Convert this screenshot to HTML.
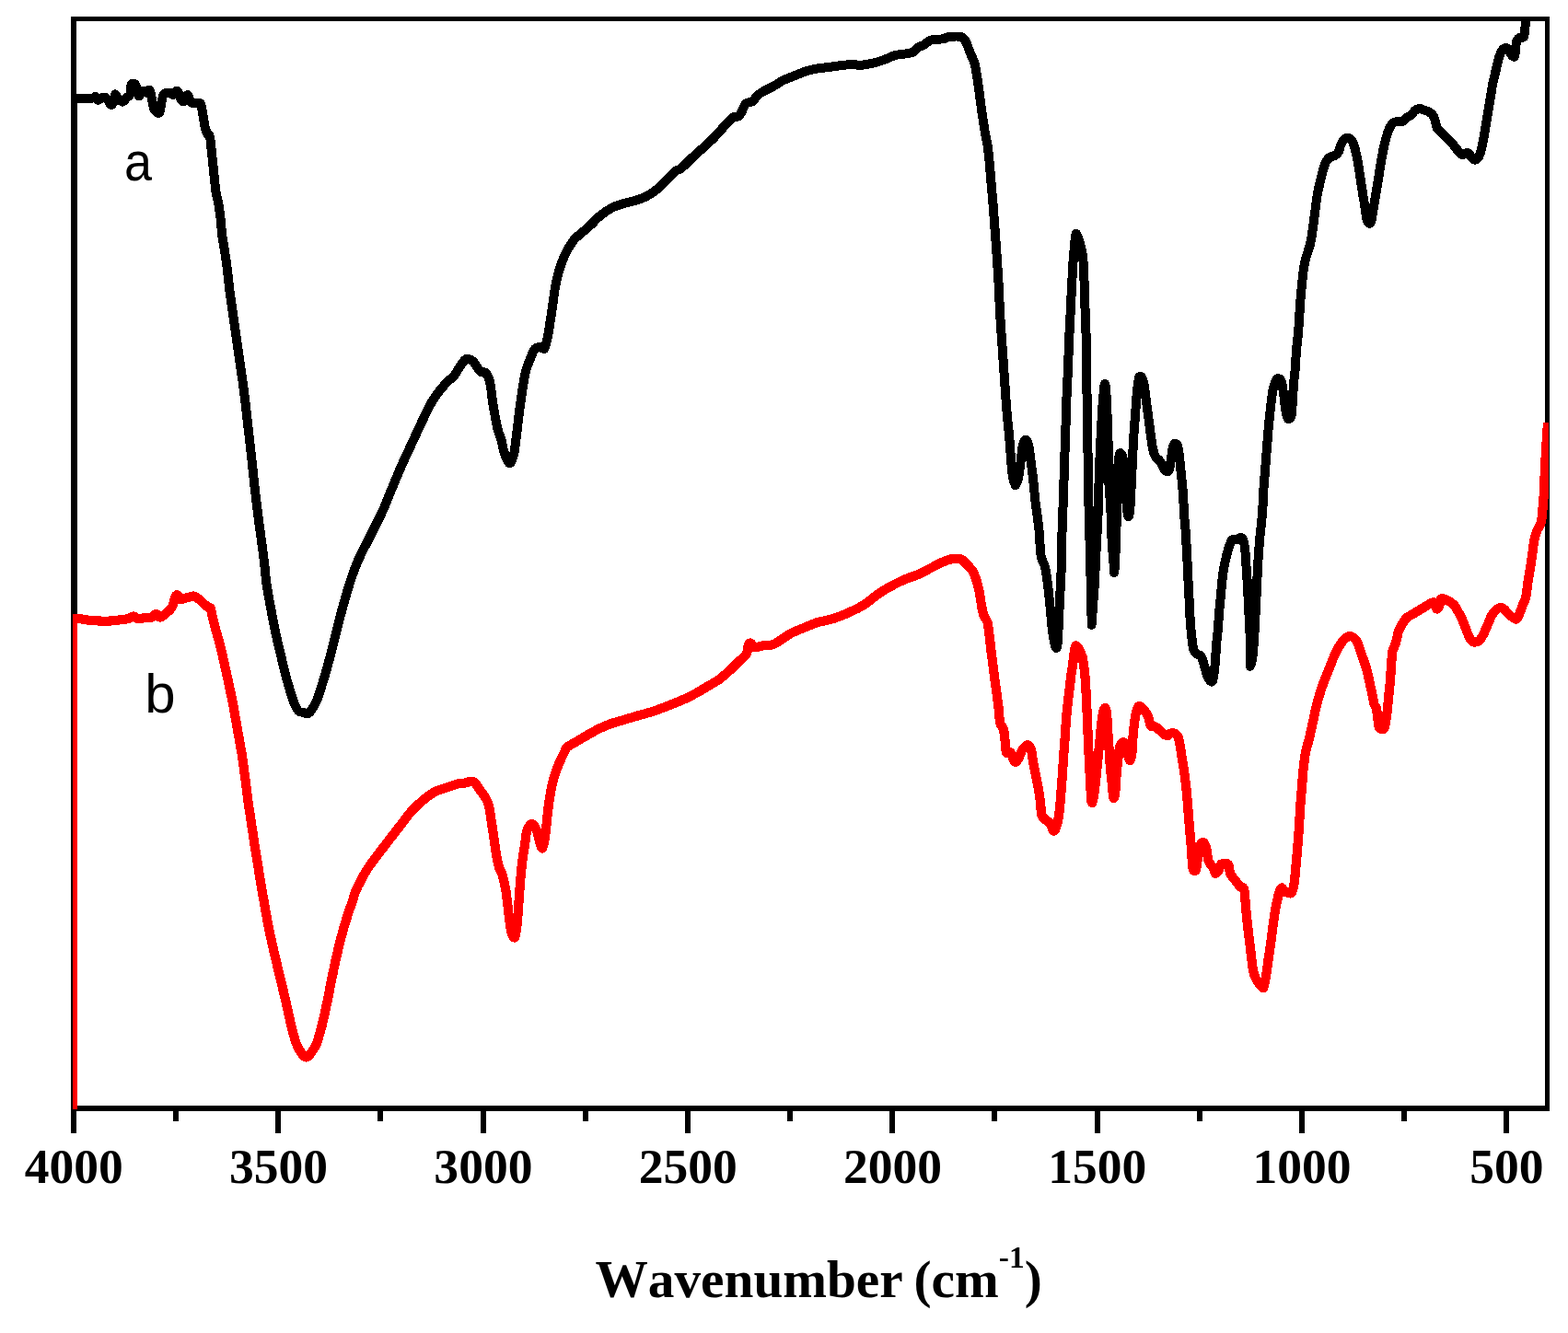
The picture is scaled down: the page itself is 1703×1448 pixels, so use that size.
<!DOCTYPE html>
<html lang="en">
<head>
<meta charset="utf-8">
<title>FTIR spectra</title>
<style>
html,body{margin:0;padding:0;background:#fff;}
body{width:1703px;height:1448px;overflow:hidden;}
svg{display:block;}
.tl text{font-family:"Liberation Serif",serif;font-weight:bold;font-size:52px;fill:#000;font-kerning:none;}
.ttl{font-family:"Liberation Serif",serif;font-weight:bold;font-size:57.3px;fill:#000;font-kerning:none;word-spacing:-2.5px;}
.lbl{font-family:"Liberation Sans",sans-serif;font-size:60px;fill:#000;}
</style>
</head>
<body>
<svg width="1703" height="1448" viewBox="0 0 1703 1448">
<rect width="1703" height="1448" fill="#fff"/>
<defs><clipPath id="plot"><rect x="79" y="18" width="1603" height="1187"/></clipPath></defs>
<g shape-rendering="crispEdges" fill="#000">
<rect x="77" y="18" width="6" height="1189"/>
<rect x="77" y="1201" width="1606" height="6"/>
<rect x="77" y="18" width="1606" height="5"/>
<rect x="1678" y="18" width="5" height="1189"/>
</g>
<g fill="#000" shape-rendering="crispEdges">
<rect x="77" y="1204" width="6" height="26.5"/><rect x="78" y="1230" width="4" height="1"/>
<rect x="299" y="1204" width="6" height="26.5"/><rect x="300" y="1230" width="4" height="1"/>
<rect x="522" y="1204" width="6" height="26.5"/><rect x="523" y="1230" width="4" height="1"/>
<rect x="744" y="1204" width="6" height="26.5"/><rect x="745" y="1230" width="4" height="1"/>
<rect x="966" y="1204" width="6" height="26.5"/><rect x="967" y="1230" width="4" height="1"/>
<rect x="1189" y="1204" width="6" height="26.5"/><rect x="1190" y="1230" width="4" height="1"/>
<rect x="1411" y="1204" width="6" height="26.5"/><rect x="1412" y="1230" width="4" height="1"/>
<rect x="1633" y="1204" width="6" height="26.5"/><rect x="1634" y="1230" width="4" height="1"/>
<rect x="188" y="1204" width="6" height="13.5"/><rect x="189" y="1217" width="4" height="1"/>
<rect x="410" y="1204" width="6" height="13.5"/><rect x="411" y="1217" width="4" height="1"/>
<rect x="633" y="1204" width="6" height="13.5"/><rect x="634" y="1217" width="4" height="1"/>
<rect x="855" y="1204" width="6" height="13.5"/><rect x="856" y="1217" width="4" height="1"/>
<rect x="1077" y="1204" width="6" height="13.5"/><rect x="1078" y="1217" width="4" height="1"/>
<rect x="1300" y="1204" width="6" height="13.5"/><rect x="1301" y="1217" width="4" height="1"/>
<rect x="1522" y="1204" width="6" height="13.5"/><rect x="1523" y="1217" width="4" height="1"/>
</g>
<g clip-path="url(#plot)" fill="none" stroke-linejoin="round" stroke-linecap="butt" shape-rendering="crispEdges">
<path stroke="#000" stroke-width="10" d="M79.0,1206.0L79.0,106.7C79.7,106.7 79.4,106.6 82.9,106.6C86.4,106.6 96.5,106.9 100.0,106.6C103.5,106.3 102.7,104.6 103.8,105.0C104.8,105.4 105.0,108.7 106.5,108.8C108.0,108.8 110.9,105.8 112.5,105.6C114.1,105.4 114.9,106.1 116.2,107.5C117.6,108.9 119.3,113.3 120.6,113.8C121.8,114.2 123.0,111.9 123.8,110.0C124.5,108.1 124.3,103.1 125.0,102.5C125.7,101.9 126.7,104.9 128.0,106.2C129.3,107.6 131.4,110.6 133.0,110.6C134.6,110.6 136.1,107.6 137.5,106.2C138.9,104.9 140.4,104.8 141.2,102.5C142.1,100.2 141.8,94.4 142.5,92.5C143.2,90.6 144.7,90.8 145.6,91.0C146.5,91.2 147.2,91.6 148.0,93.8C148.8,95.9 149.8,102.8 150.6,104.0C151.4,105.2 152.3,101.9 153.0,101.0C153.7,100.1 154.0,98.8 155.0,98.8C156.0,98.7 157.5,100.7 158.8,100.6C160.0,100.5 161.5,96.8 162.5,98.0C163.5,99.2 164.2,104.0 165.0,107.5C165.8,111.0 166.2,116.2 167.5,118.8C168.8,121.2 171.7,124.0 173.0,122.5C174.3,121.0 174.8,113.3 175.6,110.0C176.4,106.7 176.6,104.1 178.0,102.5C179.4,100.9 182.1,100.5 183.8,100.6C185.4,100.7 186.5,103.3 188.0,103.0C189.5,102.7 191.1,98.0 192.5,98.8C193.9,99.5 195.0,105.6 196.2,107.5C197.5,109.4 198.8,110.8 200.0,110.0C201.2,109.2 202.6,103.0 203.8,103.0C204.9,103.0 205.9,108.5 206.9,110.0C207.9,111.5 208.2,111.9 210.0,112.2C211.8,112.6 215.8,110.5 217.5,112.2C219.2,114.0 219.2,118.3 220.0,122.5C220.8,126.7 221.7,133.8 222.5,137.5C223.3,141.2 224.1,143.1 225.0,145.0C225.9,146.9 227.2,145.2 228.0,148.8C228.8,152.3 229.3,160.2 230.0,166.2C230.7,172.3 231.3,178.1 232.0,185.0C232.7,191.9 233.5,201.2 234.4,207.5C235.3,213.8 236.6,216.9 237.5,222.5C238.4,228.1 239.4,235.6 240.0,241.0C240.6,246.4 240.2,247.2 241.2,255.0C242.3,262.8 244.8,276.7 246.2,287.5C247.7,298.3 248.5,308.8 250.0,320.0C251.5,331.2 253.3,343.3 255.0,355.0C256.7,366.7 258.3,378.3 260.0,390.0C261.7,401.7 263.5,413.3 265.0,425.0C266.5,436.7 267.7,448.3 269.0,460.0C270.3,471.7 271.7,483.0 273.0,495.0C274.3,507.0 275.6,520.7 276.9,532.0C278.2,543.3 279.7,554.8 280.7,563.0C281.7,571.2 282.1,573.2 283.1,581.0C284.1,588.8 285.8,601.0 286.9,610.0C288.0,619.0 288.4,626.7 289.6,635.0C290.8,643.3 292.5,651.7 294.0,660.0C295.5,668.3 297.0,676.7 298.8,685.0C300.5,693.3 302.6,701.7 304.6,710.0C306.6,718.3 308.4,726.7 310.6,735.0C312.9,743.3 316.2,754.3 318.1,760.0C320.0,765.7 320.9,766.8 322.0,769.0C323.1,771.2 323.7,772.2 325.0,773.0C326.3,773.8 328.4,773.6 330.0,774.0C331.6,774.4 333.0,775.8 334.4,775.2C335.8,774.8 336.8,773.5 338.5,771.0C340.2,768.5 342.1,766.0 344.4,760.0C346.7,754.0 350.0,743.3 352.5,735.0C355.0,726.7 357.2,718.3 359.4,710.0C361.6,701.7 363.5,693.3 365.6,685.0C367.7,676.7 369.8,668.3 372.1,660.0C374.4,651.7 376.7,643.3 379.4,635.0C382.1,626.7 384.5,619.0 388.4,610.0C392.3,601.0 398.2,590.2 402.8,581.0C407.3,571.8 411.7,563.5 415.6,555.0C419.5,546.5 422.4,538.3 425.9,530.0C429.4,521.7 432.8,513.3 436.5,505.0C440.2,496.7 445.0,486.7 448.1,480.0C451.2,473.3 451.8,471.7 455.0,465.0C458.2,458.3 463.8,446.2 467.1,440.0C470.4,433.8 471.9,431.7 475.0,427.5C478.1,423.3 482.7,418.1 485.6,415.0C488.5,411.9 490.3,411.6 492.5,409.0C494.7,406.4 496.7,402.4 498.8,399.4C500.8,396.4 503.3,392.6 505.0,391.0C506.7,389.4 507.3,389.8 508.8,390.0C510.2,390.2 512.3,391.2 513.8,392.5C515.2,393.8 516.0,395.8 517.5,397.8C519.0,399.7 520.8,402.8 522.5,404.0C524.2,405.2 525.9,403.2 527.5,405.0C529.1,406.8 530.8,409.2 532.1,415.0C533.5,420.8 534.2,431.7 535.6,440.0C537.0,448.3 538.8,458.8 540.2,465.0C541.7,471.2 543.3,473.3 544.4,477.5C545.5,481.7 546.0,486.2 547.1,490.0C548.2,493.8 549.9,497.8 551.0,500.0C552.1,502.2 552.7,503.5 553.5,503.5C554.3,503.5 555.1,502.2 556.0,500.0C556.9,497.8 557.8,495.8 558.8,490.0C559.7,484.2 560.9,473.3 561.9,465.0C562.9,456.7 563.9,448.3 565.0,440.0C566.1,431.7 567.7,421.2 568.8,415.0C569.8,408.8 570.1,406.7 571.2,402.5C572.4,398.3 574.4,393.7 575.9,390.0C577.4,386.3 578.5,382.4 580.0,380.2C581.5,378.1 583.3,377.3 585.0,377.0C586.7,376.7 588.9,378.4 590.0,378.5C591.1,378.6 591.1,379.8 591.9,377.5C592.7,375.2 594.1,369.2 595.0,365.0C595.9,360.8 596.4,356.7 597.1,352.5C597.8,348.3 598.4,343.9 599.0,340.0C599.6,336.1 600.0,333.2 600.6,329.0C601.2,324.8 601.7,319.8 602.5,315.0C603.3,310.2 604.4,304.7 605.6,300.0C606.8,295.3 608.0,291.2 609.5,287.0C611.0,282.8 612.3,279.1 614.4,275.0C616.5,270.9 619.7,265.6 621.9,262.5C624.1,259.4 624.5,259.3 627.5,256.5C630.5,253.7 635.8,249.7 640.0,245.9C644.2,242.1 648.3,237.1 652.5,233.8C656.7,230.4 660.8,227.7 665.0,225.6C669.2,223.5 673.3,222.3 677.5,221.0C681.7,219.7 685.8,219.1 690.0,217.8C694.2,216.4 698.3,215.3 702.5,213.1C706.7,210.9 710.8,207.9 715.0,204.4C719.2,200.9 724.4,195.0 727.5,191.9C730.6,188.8 731.7,187.1 733.8,185.6C735.8,184.1 736.9,185.2 740.0,182.8C743.1,180.2 748.3,174.5 752.5,170.6C756.7,166.7 761.2,162.8 765.0,159.4C768.8,156.0 771.2,153.9 775.0,150.0C778.8,146.1 784.0,140.0 787.5,136.2C791.0,132.5 793.8,129.2 796.2,127.5C798.8,125.8 800.8,127.5 802.5,126.2C804.2,125.0 805.0,122.3 806.2,120.0C807.5,117.7 808.1,114.2 810.0,112.5C811.9,110.8 815.4,111.5 817.5,110.0C819.6,108.5 820.4,105.6 822.5,103.8C824.6,101.9 827.1,100.4 830.0,98.8C832.9,97.1 836.7,95.6 840.0,93.8C843.3,91.9 846.2,89.4 850.0,87.5C853.8,85.6 858.3,84.2 862.5,82.5C866.7,80.8 870.8,78.8 875.0,77.5C879.2,76.2 883.3,75.2 887.5,74.5C891.7,73.8 895.8,73.5 900.0,73.0C904.2,72.5 908.3,71.8 912.5,71.2C916.7,70.8 921.2,70.1 925.0,70.0C928.8,69.9 931.2,71.0 935.0,70.8C938.8,70.5 943.3,69.7 947.5,68.8C951.7,67.8 955.8,66.5 960.0,65.0C964.2,63.5 968.3,61.1 972.5,60.0C976.7,58.9 981.7,58.9 985.0,58.2C988.3,57.6 990.4,57.4 992.5,56.2C994.6,55.1 995.6,52.5 997.5,51.2C999.4,50.0 1001.7,50.0 1003.8,48.8C1005.8,47.5 1007.7,44.7 1010.0,43.8C1012.3,42.8 1014.9,43.3 1017.5,43.0C1020.1,42.7 1023.7,42.5 1025.8,42.0C1027.8,41.5 1027.0,40.3 1030.0,40.0C1033.0,39.7 1040.6,39.2 1043.8,40.0C1046.9,40.8 1047.1,42.1 1048.8,45.0C1050.4,47.9 1052.1,53.3 1053.8,57.5C1055.4,61.7 1057.3,64.2 1058.8,70.0C1060.2,75.8 1061.2,84.2 1062.5,92.5C1063.8,100.8 1065.0,111.2 1066.2,120.0C1067.5,128.8 1068.8,137.9 1070.0,145.0C1071.2,152.1 1072.2,154.2 1073.2,162.5C1074.3,170.8 1075.3,184.1 1076.2,195.0C1077.2,205.9 1078.1,215.9 1079.0,228.0C1079.9,240.1 1081.0,254.7 1081.9,267.5C1082.8,280.3 1083.7,292.5 1084.4,305.0C1085.1,317.5 1085.5,330.0 1086.2,342.5C1087.0,355.0 1088.0,369.6 1088.8,380.0C1089.5,390.4 1090.0,397.5 1090.5,405.0C1091.0,412.5 1091.4,417.5 1091.9,425.0C1092.4,432.5 1093.0,441.7 1093.8,450.0C1094.5,458.3 1095.5,466.7 1096.2,475.0C1097.0,483.3 1097.5,492.7 1098.1,500.0C1098.7,507.3 1099.3,514.4 1100.0,518.8C1100.7,523.1 1102.0,525.0 1102.5,526.2C1103.0,527.5 1102.5,527.5 1103.1,526.2C1103.7,525.0 1105.3,523.1 1106.2,518.8C1107.2,514.4 1108.0,505.6 1108.8,500.0C1109.5,494.4 1109.8,488.8 1110.6,485.0C1111.4,481.2 1112.6,477.5 1113.8,477.5C1114.9,477.5 1116.6,481.2 1117.5,485.0C1118.4,488.8 1118.7,494.4 1119.4,500.0C1120.1,505.6 1121.1,511.5 1121.9,518.8C1122.7,526.0 1123.6,536.5 1124.4,543.8C1125.2,551.0 1126.2,556.7 1126.9,562.5C1127.6,568.3 1128.1,571.9 1128.8,578.8C1129.4,585.6 1129.6,597.5 1130.6,603.8C1131.6,610.0 1133.8,611.0 1135.0,616.2C1136.2,621.5 1137.1,627.7 1138.0,635.0C1138.9,642.3 1139.8,651.7 1140.6,660.0C1141.4,668.3 1142.2,678.3 1143.0,685.0C1143.8,691.7 1144.8,696.9 1145.6,700.0C1146.3,703.1 1147.0,704.2 1147.5,703.8C1148.0,703.3 1148.3,702.7 1148.8,697.5C1149.2,692.3 1149.6,680.8 1150.0,672.5C1150.4,664.2 1150.8,655.8 1151.2,647.5C1151.7,639.2 1152.2,630.8 1152.5,622.5C1152.8,614.2 1152.8,606.2 1153.0,597.5C1153.2,588.8 1153.4,580.0 1153.8,570.0C1154.1,560.0 1154.6,549.2 1155.0,537.5C1155.4,525.8 1155.8,512.5 1156.2,500.0C1156.7,487.5 1157.1,475.0 1157.5,462.5C1157.9,450.0 1158.3,435.4 1158.8,425.0C1159.2,414.6 1159.6,409.6 1160.0,400.0C1160.4,390.4 1160.7,379.2 1161.2,367.5C1161.8,355.8 1162.5,342.5 1163.1,330.0C1163.7,317.5 1164.4,302.9 1165.0,292.5C1165.6,282.1 1166.3,273.8 1166.9,267.5C1167.5,261.2 1168.1,257.1 1168.5,255.0C1168.9,252.9 1168.9,254.1 1169.4,254.8C1169.9,255.4 1170.4,256.2 1171.2,258.8C1172.1,261.3 1173.6,266.5 1174.4,270.0C1175.2,273.5 1175.7,274.2 1176.2,280.0C1176.8,285.8 1177.1,294.6 1177.5,305.0C1177.9,315.4 1178.3,330.0 1178.8,342.5C1179.2,355.0 1179.7,364.2 1180.0,380.0C1180.3,395.8 1180.4,421.7 1180.6,437.5C1180.8,453.3 1181.0,462.5 1181.2,475.0C1181.5,487.5 1181.7,500.0 1181.9,512.5C1182.1,525.0 1182.2,535.8 1182.5,550.0C1182.8,564.2 1183.4,583.3 1183.8,597.5C1184.1,611.7 1184.4,622.5 1184.8,635.0C1185.1,647.5 1185.5,665.4 1185.6,672.5C1185.7,679.6 1185.4,679.6 1185.6,677.5C1185.8,675.4 1186.4,667.1 1186.9,660.0C1187.4,652.9 1188.1,645.4 1188.8,635.0C1189.4,624.6 1190.0,610.0 1190.6,597.5C1191.2,585.0 1192.1,570.0 1192.5,560.0C1192.9,550.0 1192.8,547.5 1193.1,537.5C1193.4,527.5 1194.0,510.4 1194.4,500.0C1194.8,489.6 1195.2,483.3 1195.6,475.0C1196.0,466.7 1196.4,458.3 1196.9,450.0C1197.4,441.7 1198.2,430.5 1198.8,425.0C1199.3,419.5 1199.6,416.9 1200.0,416.9C1200.4,416.9 1200.8,419.5 1201.2,425.0C1201.7,430.5 1202.1,439.6 1202.5,450.0C1202.9,460.4 1203.4,475.0 1203.8,487.5C1204.1,500.0 1204.0,514.6 1204.4,525.0C1204.8,535.4 1205.7,540.0 1206.2,550.0C1206.8,560.0 1207.0,575.0 1207.5,585.0C1208.0,595.0 1209.0,603.9 1209.4,610.0C1209.8,616.1 1209.7,621.9 1210.0,621.9C1210.3,621.9 1210.9,616.1 1211.2,610.0C1211.6,603.9 1211.6,593.3 1211.9,585.0C1212.2,576.7 1212.8,570.0 1213.0,560.0C1213.2,550.0 1212.8,535.0 1213.1,525.0C1213.4,515.0 1214.4,505.5 1215.0,500.0C1215.6,494.5 1216.1,492.0 1216.9,492.0C1217.7,492.0 1219.2,494.5 1220.0,500.0C1220.8,505.5 1221.3,516.7 1221.9,525.0C1222.5,533.3 1223.1,543.9 1223.8,550.0C1224.4,556.1 1225.0,561.5 1225.6,561.5C1226.2,561.5 1227.0,556.1 1227.5,550.0C1228.0,543.9 1228.3,533.3 1228.8,525.0C1229.2,516.7 1229.6,508.3 1230.0,500.0C1230.4,491.7 1230.7,483.3 1231.2,475.0C1231.8,466.7 1232.5,458.3 1233.1,450.0C1233.7,441.7 1234.4,431.5 1235.0,425.0C1235.6,418.5 1236.4,413.9 1236.9,411.2C1237.4,408.6 1237.5,409.4 1238.0,409.2C1238.5,409.0 1239.2,408.6 1240.0,410.0C1240.8,411.4 1241.7,413.1 1242.5,417.5C1243.3,421.9 1244.2,430.0 1245.0,436.2C1245.8,442.5 1246.7,448.8 1247.5,455.0C1248.3,461.2 1249.3,468.5 1250.0,473.8C1250.7,479.0 1251.2,482.7 1251.9,486.2C1252.6,489.8 1253.1,492.5 1254.4,495.0C1255.8,497.5 1258.4,499.0 1260.0,501.2C1261.6,503.5 1262.6,507.0 1263.8,508.8C1264.9,510.5 1265.9,511.7 1266.9,511.9C1267.9,512.1 1269.2,512.2 1270.0,510.0C1270.8,507.8 1271.3,502.7 1271.9,498.8C1272.5,494.8 1273.1,489.1 1273.8,486.2C1274.4,483.4 1274.8,482.3 1275.6,481.9C1276.4,481.5 1277.9,482.0 1278.8,483.8C1279.6,485.5 1280.0,487.9 1280.6,492.5C1281.2,497.1 1281.9,505.0 1282.5,511.2C1283.1,517.5 1283.9,523.8 1284.4,530.0C1284.9,536.2 1285.3,543.6 1285.6,548.8C1285.9,553.9 1285.9,556.6 1286.2,561.0C1286.6,565.4 1287.0,568.5 1287.5,575.0C1288.0,581.5 1288.5,591.7 1289.0,600.0C1289.5,608.3 1289.8,616.7 1290.2,625.0C1290.7,633.3 1291.1,641.7 1291.5,650.0C1291.9,658.3 1292.3,667.9 1292.8,675.0C1293.2,682.1 1293.8,687.5 1294.4,692.5C1295.0,697.5 1295.3,702.0 1296.2,705.0C1297.2,708.0 1298.6,709.4 1300.0,710.6C1301.4,711.9 1303.2,710.7 1304.4,712.5C1305.7,714.3 1306.5,717.9 1307.5,721.2C1308.5,724.6 1309.6,729.6 1310.6,732.5C1311.6,735.4 1312.7,737.5 1313.8,738.8C1314.8,740.0 1316.1,741.5 1316.9,740.0C1317.7,738.5 1318.2,733.8 1318.8,730.0C1319.3,726.2 1319.6,722.7 1320.0,717.5C1320.4,712.3 1320.8,703.8 1321.2,698.8C1321.7,693.8 1322.0,693.5 1322.5,687.5C1323.0,681.5 1323.8,669.8 1324.4,662.5C1325.0,655.2 1325.7,650.0 1326.2,643.8C1326.8,637.5 1327.3,630.6 1328.0,625.0C1328.7,619.4 1329.6,614.6 1330.6,610.0C1331.6,605.4 1332.6,601.2 1333.8,597.5C1334.9,593.8 1336.2,589.5 1337.5,587.5C1338.8,585.5 1340.1,585.8 1341.2,585.6C1342.4,585.4 1343.4,586.6 1344.4,586.2C1345.4,585.9 1346.5,583.5 1347.5,583.8C1348.5,584.0 1349.8,584.8 1350.6,587.5C1351.4,590.2 1352.0,594.8 1352.5,600.0C1353.0,605.2 1353.3,612.5 1353.8,618.8C1354.2,625.0 1354.6,630.2 1355.0,637.5C1355.4,644.8 1355.8,654.2 1356.2,662.5C1356.7,670.8 1357.2,679.2 1357.5,687.5C1357.8,695.8 1357.9,706.5 1358.0,712.5C1358.1,718.5 1357.6,723.8 1358.0,723.8C1358.4,723.8 1359.8,718.5 1360.6,712.5C1361.3,706.5 1362.0,695.8 1362.5,687.5C1363.0,679.2 1363.3,670.8 1363.8,662.5C1364.2,654.2 1364.6,645.8 1365.0,637.5C1365.4,629.2 1365.8,620.8 1366.2,612.5C1366.8,604.2 1367.4,594.8 1368.0,587.5C1368.6,580.2 1369.4,575.0 1370.0,568.8C1370.6,562.5 1371.1,556.5 1371.5,550.0C1371.9,543.5 1371.9,538.5 1372.5,530.0C1373.1,521.5 1374.2,509.2 1375.0,498.8C1375.8,488.3 1376.7,476.9 1377.5,467.5C1378.3,458.1 1379.2,449.8 1380.0,442.5C1380.8,435.2 1381.6,428.5 1382.5,423.8C1383.4,419.0 1384.6,415.8 1385.6,413.8C1386.6,411.7 1387.7,411.0 1388.8,411.2C1389.8,411.5 1391.0,411.9 1391.9,415.0C1392.8,418.1 1393.7,425.0 1394.4,430.0C1395.1,435.0 1395.5,440.8 1396.2,445.0C1397.0,449.2 1397.7,454.0 1398.8,455.0C1399.8,456.0 1401.7,454.4 1402.5,451.2C1403.3,448.1 1403.3,441.9 1403.8,436.2C1404.2,430.6 1404.5,423.8 1405.0,417.5C1405.5,411.2 1406.4,405.0 1406.9,398.8C1407.4,392.5 1407.5,386.1 1408.0,380.0C1408.5,373.9 1409.2,371.2 1410.0,362.0C1410.8,352.8 1411.6,336.2 1412.5,325.0C1413.4,313.8 1414.6,302.3 1415.5,295.0C1416.4,287.7 1416.8,286.0 1418.1,281.0C1419.4,276.0 1421.8,270.2 1423.1,265.0C1424.3,259.8 1424.8,255.6 1425.6,250.0C1426.4,244.4 1427.3,237.5 1428.1,231.2C1428.9,225.0 1429.7,218.1 1430.6,212.5C1431.5,206.9 1432.7,202.1 1433.8,197.5C1434.8,192.9 1435.9,188.5 1436.9,185.0C1437.9,181.5 1438.9,178.5 1440.0,176.2C1441.1,174.0 1442.1,172.5 1443.8,171.2C1445.4,170.0 1448.3,169.8 1450.0,168.8C1451.7,167.7 1452.7,166.9 1453.8,165.0C1454.8,163.1 1455.2,159.8 1456.2,157.5C1457.3,155.2 1458.6,152.5 1460.0,151.2C1461.4,150.0 1462.9,149.6 1464.4,150.0C1465.9,150.4 1467.5,151.7 1468.8,153.8C1470.0,155.8 1470.9,158.5 1471.9,162.5C1472.9,166.5 1474.1,172.3 1475.0,177.5C1475.9,182.7 1476.7,188.3 1477.5,193.8C1478.3,199.2 1479.2,204.8 1480.0,210.0C1480.8,215.2 1481.8,220.4 1482.5,225.0C1483.2,229.6 1483.7,234.6 1484.4,237.5C1485.1,240.4 1486.1,242.1 1486.9,242.5C1487.7,242.9 1488.6,242.9 1489.4,240.0C1490.2,237.1 1491.0,230.6 1491.9,225.0C1492.8,219.4 1494.0,212.5 1495.0,206.2C1496.0,200.0 1497.1,193.8 1498.1,187.5C1499.1,181.2 1500.3,174.0 1501.2,168.8C1502.2,163.5 1502.8,160.2 1503.8,156.2C1504.7,152.3 1505.9,148.1 1506.9,145.0C1507.9,141.9 1508.9,139.5 1510.0,137.5C1511.1,135.5 1512.3,134.0 1513.8,133.1C1515.2,132.2 1517.2,132.1 1518.8,131.9C1520.3,131.7 1521.6,132.5 1523.1,131.9C1524.6,131.3 1525.9,129.2 1527.5,128.1C1529.1,126.9 1530.9,126.3 1532.5,125.0C1534.1,123.7 1535.4,121.2 1536.9,120.0C1538.4,118.8 1539.7,118.0 1541.2,117.9C1542.8,117.8 1544.6,118.8 1546.2,119.4C1547.9,120.0 1549.6,120.3 1551.2,121.2C1552.9,122.2 1555.0,123.3 1556.2,125.0C1557.5,126.7 1558.0,129.0 1558.8,131.2C1559.5,133.5 1559.6,136.7 1560.6,138.8C1561.6,140.8 1563.2,141.9 1565.0,143.8C1566.8,145.6 1569.2,147.9 1571.2,150.0C1573.3,152.1 1575.6,154.2 1577.5,156.2C1579.4,158.3 1580.9,160.6 1582.5,162.5C1584.1,164.4 1585.7,166.7 1586.9,167.5C1588.2,168.3 1588.8,167.7 1590.0,167.5C1591.2,167.3 1592.9,165.6 1594.4,166.2C1595.9,166.9 1597.5,170.0 1598.8,171.2C1600.0,172.5 1600.7,174.0 1601.9,173.8C1603.2,173.5 1605.0,172.3 1606.2,170.0C1607.5,167.7 1608.5,163.8 1609.4,160.0C1610.3,156.2 1611.0,152.7 1611.9,147.5C1612.8,142.3 1614.0,135.0 1615.0,128.8C1616.0,122.5 1617.1,116.2 1618.1,110.0C1619.1,103.8 1620.1,97.1 1621.2,91.2C1622.4,85.4 1623.9,79.8 1625.0,75.0C1626.1,70.2 1627.1,65.8 1628.1,62.5C1629.1,59.2 1630.0,56.8 1631.2,55.0C1632.5,53.2 1634.3,51.9 1635.6,51.9C1636.8,51.9 1637.7,53.6 1638.8,55.0C1639.8,56.4 1640.9,59.0 1641.9,60.0C1642.9,61.0 1644.3,62.7 1645.0,61.2C1645.7,59.8 1645.8,54.2 1646.2,51.2C1646.7,48.3 1646.7,45.5 1647.5,43.8C1648.3,42.0 1650.0,41.2 1651.2,40.6C1652.5,40.0 1654.2,41.4 1655.0,40.0C1655.8,38.6 1655.9,35.4 1656.2,32.5C1656.6,29.6 1656.7,25.6 1656.9,22.5C1657.1,19.4 1657.4,15.4 1657.5,14.0"/>
<path stroke="#f00" stroke-width="10.2" d="M79.0,1206.0L79.0,672.0C80.0,672.0 82.3,671.6 85.0,671.9C87.7,672.1 91.2,673.1 95.0,673.5C98.8,673.9 103.3,674.3 107.5,674.5C111.7,674.7 115.8,674.8 120.0,674.5C124.2,674.2 129.2,673.4 132.5,673.0C135.8,672.6 137.9,672.6 140.0,672.0C142.1,671.4 143.3,669.4 145.0,669.4C146.7,669.4 147.9,672.0 150.0,672.2C152.1,672.5 155.2,671.2 157.5,671.0C159.8,670.8 161.8,671.7 163.8,671.0C165.7,670.3 167.7,667.1 169.4,667.0C171.1,666.9 172.2,670.5 173.8,670.6C175.3,670.7 176.9,669.0 178.8,667.5C180.6,666.0 183.5,663.6 185.0,661.9C186.5,660.1 187.1,659.3 188.0,657.0C188.9,654.7 189.7,649.8 190.5,648.0C191.3,646.2 192.1,646.0 193.0,646.5C193.9,647.0 194.8,650.4 196.0,651.0C197.2,651.6 198.5,650.4 200.0,650.0C201.5,649.6 203.3,649.2 205.0,648.8C206.7,648.3 208.3,647.3 210.0,647.5C211.7,647.7 213.3,648.8 215.0,650.0C216.7,651.2 218.3,653.1 220.0,654.6C221.7,656.1 223.5,657.6 225.0,658.8C226.5,659.9 227.6,658.5 228.8,661.2C229.9,664.0 230.2,668.5 231.9,675.0C233.6,681.5 236.6,691.7 238.8,700.0C240.9,708.3 242.7,716.7 244.6,725.0C246.5,733.3 248.4,742.5 250.0,750.0C251.6,757.5 252.6,762.5 254.0,770.0C255.4,777.5 256.9,786.7 258.4,795.0C259.9,803.3 261.4,811.7 262.8,820.0C264.1,828.3 265.1,836.7 266.2,845.0C267.4,853.3 268.3,861.7 269.4,870.0C270.5,878.3 271.9,886.7 273.1,895.0C274.4,903.3 275.4,910.7 276.9,920.0C278.4,929.3 280.0,939.3 281.9,951.0C283.8,962.7 286.6,979.3 288.5,990.0C290.4,1000.7 291.6,1006.7 293.4,1015.0C295.1,1023.3 297.1,1031.7 299.0,1040.0C300.9,1048.3 303.0,1056.7 305.0,1065.0C307.0,1073.3 309.0,1081.7 310.9,1090.0C312.8,1098.3 314.7,1107.7 316.5,1115.0C318.3,1122.3 320.1,1129.0 321.9,1133.8C323.6,1138.5 325.6,1141.2 327.0,1143.5C328.4,1145.8 329.1,1146.5 330.0,1147.3C330.9,1148.1 331.7,1148.5 332.5,1148.5C333.3,1148.5 334.1,1148.1 335.0,1147.3C335.9,1146.5 336.5,1145.8 338.0,1143.5C339.5,1141.2 341.9,1138.5 343.8,1133.8C345.6,1129.0 347.5,1122.3 349.4,1115.0C351.3,1107.7 353.2,1098.3 355.0,1090.0C356.8,1081.7 358.3,1073.3 360.0,1065.0C361.7,1056.7 363.2,1048.8 365.2,1040.0C367.3,1031.2 370.1,1019.9 372.2,1012.0C374.3,1004.1 376.4,997.8 378.1,992.5C379.8,987.2 381.1,984.2 382.5,980.0C383.9,975.8 384.8,971.7 386.5,967.5C388.2,963.3 390.5,959.2 392.8,955.0C395.0,950.8 397.1,946.8 400.0,942.5C402.9,938.2 406.2,934.0 410.0,929.0C413.8,924.0 418.3,917.9 422.5,912.5C426.7,907.1 430.8,901.8 435.0,896.5C439.2,891.2 443.3,885.1 447.5,880.5C451.7,875.9 455.8,872.2 460.0,868.8C464.2,865.3 468.3,862.2 472.5,860.0C476.7,857.8 480.8,857.0 485.0,855.6C489.2,854.2 494.2,852.2 497.5,851.4C500.8,850.6 502.7,851.0 505.0,850.6C507.3,850.2 509.5,848.9 511.2,848.8C513.0,848.6 513.9,848.4 515.6,850.0C517.3,851.6 519.5,855.6 521.2,858.1C523.0,860.6 524.8,862.6 526.2,865.0C527.7,867.4 529.1,869.8 530.0,872.2C530.9,874.8 531.0,874.5 531.9,880.0C532.8,885.5 534.4,896.7 535.6,905.0C536.9,913.3 538.3,923.8 539.4,930.0C540.5,936.2 541.1,939.2 542.1,942.5C543.1,945.8 544.4,945.8 545.6,950.0C546.8,954.2 548.2,960.4 549.4,967.5C550.5,974.6 551.6,985.2 552.5,992.5C553.4,999.8 554.2,1006.9 555.0,1011.0C555.8,1015.1 556.2,1016.0 557.0,1017.0C557.8,1018.0 558.7,1019.8 559.5,1017.0C560.3,1014.2 561.2,1008.2 562.0,1000.0C562.8,991.8 563.6,977.1 564.4,967.5C565.1,957.9 565.6,950.8 566.5,942.5C567.4,934.2 569.0,924.2 570.0,917.5C571.0,910.8 571.2,905.8 572.5,902.0C573.8,898.2 575.8,895.1 577.5,895.0C579.2,894.9 581.0,897.9 582.5,901.2C584.0,904.6 585.1,911.7 586.2,915.0C587.4,918.3 588.2,922.9 589.2,921.2C590.3,919.6 591.5,912.3 592.5,905.0C593.5,897.7 594.4,885.8 595.5,877.5C596.6,869.2 597.9,860.8 599.0,855.0C600.1,849.2 601.1,846.7 602.4,842.5C603.7,838.3 605.2,834.2 606.9,830.0C608.6,825.8 611.2,820.6 612.8,817.5C614.3,814.4 614.0,813.4 616.0,811.5C618.0,809.6 621.4,808.4 625.0,806.2C628.6,804.1 633.3,801.1 637.5,798.8C641.7,796.4 645.8,793.9 650.0,791.9C654.2,789.9 657.5,788.3 662.5,786.5C667.5,784.7 674.6,782.9 680.0,781.2C685.4,779.6 690.0,778.2 695.0,776.8C700.0,775.3 704.2,774.5 710.0,772.5C715.8,770.5 723.3,767.7 730.0,765.0C736.7,762.3 743.8,759.4 750.0,756.2C756.2,753.1 762.5,749.2 767.5,746.2C772.5,743.3 776.0,741.5 780.0,738.8C784.0,736.0 787.7,732.7 791.2,729.5C794.8,726.3 798.3,722.7 801.5,719.5C804.7,716.3 808.6,713.6 810.5,710.5C812.4,707.4 811.9,703.0 812.8,701.0C813.6,699.0 814.4,698.3 815.5,698.6C816.6,698.9 817.1,702.6 819.5,703.0C821.9,703.4 826.6,701.8 830.0,701.2C833.4,700.8 836.7,701.2 840.0,700.0C843.3,698.8 846.7,695.8 850.0,693.8C853.3,691.7 855.8,689.6 860.0,687.5C864.2,685.4 870.4,683.1 875.0,681.2C879.6,679.4 882.5,677.8 887.5,676.2C892.5,674.7 899.6,673.7 905.0,672.0C910.4,670.3 914.6,668.7 920.0,666.2C925.4,663.8 931.7,661.1 937.5,657.5C943.3,653.9 949.6,648.2 955.0,644.5C960.4,640.8 965.0,638.2 970.0,635.5C975.0,632.8 980.4,630.4 985.0,628.5C989.6,626.6 993.3,625.8 997.5,624.0C1001.7,622.2 1005.8,619.6 1010.0,617.5C1014.2,615.4 1018.8,612.9 1022.5,611.2C1026.2,609.6 1029.6,608.2 1032.5,607.5C1035.4,606.8 1037.9,606.8 1040.0,606.9C1042.1,607.0 1043.3,607.1 1045.0,608.1C1046.7,609.1 1048.1,611.1 1050.0,613.1C1051.9,615.1 1054.6,617.4 1056.2,620.0C1057.9,622.6 1058.9,625.4 1060.0,628.8C1061.1,632.1 1062.2,635.6 1063.1,640.0C1064.0,644.4 1064.8,650.4 1065.6,655.0C1066.4,659.6 1066.9,664.0 1068.1,667.5C1069.2,671.0 1071.5,672.7 1072.5,676.2C1073.5,679.8 1073.8,684.0 1074.4,688.8C1075.0,693.5 1075.6,699.8 1076.2,705.0C1076.9,710.2 1077.5,715.0 1078.1,720.0C1078.7,725.0 1079.4,730.2 1080.0,735.0C1080.6,739.8 1081.2,743.3 1081.9,748.8C1082.6,754.2 1083.7,761.5 1084.4,767.5C1085.1,773.5 1085.3,780.8 1086.2,785.0C1087.2,789.2 1089.1,788.8 1090.0,792.5C1090.9,796.2 1091.4,803.3 1091.9,807.5C1092.4,811.7 1092.2,815.8 1093.1,817.5C1094.0,819.2 1096.1,816.0 1097.5,817.5C1098.9,819.0 1100.2,824.6 1101.2,826.2C1102.3,827.9 1102.8,828.1 1103.8,827.5C1104.7,826.9 1105.9,824.6 1106.9,822.5C1107.9,820.4 1108.9,817.0 1110.0,815.0C1111.1,813.0 1112.6,811.5 1113.8,810.6C1114.9,809.7 1115.9,808.7 1116.9,809.4C1117.9,810.1 1119.1,811.6 1120.0,815.0C1120.9,818.4 1121.7,825.4 1122.5,830.0C1123.3,834.6 1124.2,838.3 1125.0,842.5C1125.8,846.7 1126.7,850.2 1127.5,855.0C1128.3,859.8 1129.4,866.2 1130.0,871.2C1130.6,876.2 1130.4,881.9 1131.2,885.0C1132.1,888.1 1133.5,888.5 1135.0,890.0C1136.5,891.5 1138.7,892.0 1140.0,893.8C1141.3,895.5 1142.3,899.1 1143.1,900.6C1143.9,902.1 1144.3,903.0 1145.0,902.5C1145.7,902.0 1146.7,900.2 1147.5,897.5C1148.3,894.8 1149.3,891.2 1150.0,886.2C1150.7,881.2 1151.3,874.8 1151.9,867.5C1152.5,860.2 1153.2,849.8 1153.8,842.5C1154.3,835.2 1154.5,831.0 1155.0,823.8C1155.5,816.5 1156.4,806.0 1156.9,798.8C1157.4,791.5 1157.6,786.2 1158.1,780.0C1158.6,773.8 1159.4,766.9 1160.0,761.2C1160.6,755.6 1161.3,751.5 1161.9,746.2C1162.5,741.0 1163.2,734.0 1163.8,730.0C1164.3,726.0 1164.4,726.9 1165.0,722.5C1165.6,718.1 1166.8,707.2 1167.5,703.8C1168.2,700.3 1168.7,701.8 1169.4,702.0C1170.1,702.2 1170.9,703.0 1171.9,705.0C1172.9,707.0 1174.8,710.8 1175.6,713.8C1176.4,716.7 1176.5,719.8 1176.9,722.5C1177.3,725.2 1177.7,725.6 1178.1,730.0C1178.5,734.4 1179.0,741.5 1179.4,748.8C1179.8,756.0 1180.2,764.4 1180.6,773.8C1181.0,783.1 1181.5,795.6 1181.9,805.0C1182.3,814.4 1182.7,821.7 1183.1,830.0C1183.5,838.3 1184.0,848.1 1184.4,855.0C1184.8,861.9 1185.1,869.2 1185.6,871.2C1186.1,873.3 1186.8,871.2 1187.5,867.5C1188.2,863.8 1189.2,856.0 1190.0,848.8C1190.8,841.5 1191.8,831.0 1192.5,823.8C1193.2,816.5 1193.8,811.2 1194.4,805.0C1195.0,798.8 1195.6,791.5 1196.2,786.2C1196.9,781.0 1197.5,776.6 1198.1,773.8C1198.7,770.9 1199.4,769.0 1200.0,769.0C1200.6,769.0 1201.4,769.8 1201.9,773.8C1202.4,777.7 1202.7,786.2 1203.1,792.5C1203.5,798.8 1204.0,805.0 1204.4,811.2C1204.8,817.5 1205.1,823.8 1205.6,830.0C1206.1,836.2 1206.9,842.7 1207.5,848.8C1208.1,854.8 1208.8,864.2 1209.4,866.2C1210.0,868.3 1210.7,865.2 1211.2,861.2C1211.8,857.3 1212.0,848.8 1212.5,842.5C1213.0,836.2 1213.8,829.0 1214.4,823.8C1215.0,818.5 1215.3,814.2 1216.2,811.2C1217.2,808.3 1219.0,806.5 1220.0,806.2C1221.0,806.0 1221.7,807.7 1222.5,810.0C1223.3,812.3 1224.2,817.3 1225.0,820.0C1225.8,822.7 1226.8,826.7 1227.5,826.2C1228.2,825.8 1228.9,822.1 1229.4,817.5C1229.9,812.9 1230.1,804.6 1230.6,798.8C1231.1,792.9 1231.8,787.3 1232.5,782.5C1233.2,777.7 1234.2,772.6 1235.0,770.0C1235.8,767.4 1236.6,767.3 1237.5,767.1C1238.4,766.9 1239.4,767.6 1240.6,768.8C1241.8,769.9 1243.2,771.9 1244.4,773.8C1245.6,775.6 1246.6,777.5 1247.5,780.0C1248.4,782.5 1248.8,787.2 1250.0,788.8C1251.2,790.3 1253.3,788.6 1255.0,789.4C1256.7,790.2 1258.3,792.3 1260.0,793.8C1261.7,795.2 1263.5,797.3 1265.0,798.1C1266.5,798.9 1267.5,799.1 1268.8,798.8C1270.0,798.4 1270.8,796.2 1272.5,796.2C1274.2,796.3 1277.2,796.9 1278.8,799.0C1280.2,801.1 1280.6,804.7 1281.5,809.0C1282.4,813.3 1283.2,820.0 1284.0,825.0C1284.8,830.0 1285.5,832.9 1286.2,838.8C1287.0,844.6 1287.9,851.5 1288.8,860.0C1289.6,868.5 1290.4,880.0 1291.2,890.0C1292.1,900.0 1293.0,911.2 1293.8,920.0C1294.5,928.8 1294.7,938.3 1295.5,942.5C1296.3,946.7 1297.8,947.1 1298.8,945.0C1299.7,942.9 1300.4,934.6 1301.2,930.0C1302.1,925.4 1302.7,919.9 1303.8,917.5C1304.8,915.1 1306.4,914.7 1307.5,915.5C1308.6,916.3 1309.7,919.2 1310.5,922.5C1311.3,925.8 1311.3,931.7 1312.5,935.0C1313.7,938.3 1316.2,940.2 1317.5,942.5C1318.8,944.8 1319.0,948.3 1320.0,948.8C1321.0,949.2 1322.7,946.7 1323.8,945.0C1324.8,943.3 1324.6,939.8 1326.2,938.8C1327.9,937.7 1332.1,937.1 1333.8,938.8C1335.4,940.4 1334.8,945.6 1336.2,948.8C1337.7,951.9 1340.6,955.0 1342.5,957.5C1344.4,960.0 1346.0,962.3 1347.5,963.8C1349.0,965.2 1350.3,962.7 1351.2,966.2C1352.2,969.8 1352.4,978.5 1353.0,985.0C1353.6,991.5 1354.2,997.5 1355.0,1005.0C1355.8,1012.5 1357.0,1021.7 1358.0,1030.0C1359.0,1038.3 1360.1,1049.2 1361.2,1055.0C1362.4,1060.8 1363.5,1062.3 1365.0,1065.0C1366.5,1067.7 1368.8,1070.0 1370.0,1071.2C1371.2,1072.5 1371.7,1074.4 1372.5,1072.5C1373.3,1070.6 1374.2,1065.0 1375.0,1060.0C1375.8,1055.0 1376.6,1048.8 1377.5,1042.5C1378.4,1036.2 1379.6,1029.2 1380.5,1022.5C1381.4,1015.8 1382.0,1009.2 1383.0,1002.5C1384.0,995.8 1385.1,988.3 1386.2,982.5C1387.4,976.7 1389.0,970.5 1390.0,967.5C1391.0,964.5 1391.5,964.3 1392.5,964.5C1393.5,964.7 1394.6,967.8 1396.2,968.8C1397.9,969.7 1401.0,971.5 1402.5,970.0C1404.0,968.5 1404.6,965.8 1405.5,960.0C1406.4,954.2 1407.2,944.2 1408.0,935.0C1408.8,925.8 1409.8,915.4 1410.5,905.0C1411.2,894.6 1411.9,880.8 1412.5,872.5C1413.1,864.2 1413.5,861.0 1414.0,855.0C1414.5,849.0 1414.8,842.5 1415.5,836.2C1416.2,830.0 1416.9,823.2 1418.0,817.5C1419.1,811.8 1420.7,807.4 1422.0,802.0C1423.3,796.6 1424.7,790.0 1425.8,785.0C1426.9,780.0 1427.2,777.5 1428.5,772.0C1429.8,766.5 1432.2,757.7 1433.9,752.2C1435.6,746.7 1436.9,743.1 1438.5,739.0C1440.1,734.9 1441.2,732.3 1443.2,727.3C1445.3,722.2 1448.3,713.7 1450.7,708.7C1453.1,703.7 1455.5,700.2 1457.5,697.5C1459.5,694.8 1461.0,693.6 1462.5,692.5C1464.0,691.4 1464.8,690.8 1466.2,691.0C1467.7,691.2 1469.8,692.3 1471.2,693.8C1472.7,695.2 1473.9,697.0 1475.0,699.5C1476.1,702.0 1476.5,704.1 1478.1,708.7C1479.6,713.3 1482.3,720.0 1484.3,727.3C1486.3,734.5 1488.5,746.0 1489.9,752.2C1491.3,758.4 1491.7,761.7 1492.5,764.7C1493.3,767.7 1494.2,766.0 1495.0,770.0C1495.8,774.0 1496.6,785.1 1497.5,788.8C1498.4,792.4 1499.6,791.7 1500.6,791.9C1501.6,792.1 1502.8,792.6 1503.8,790.0C1504.7,787.4 1505.5,781.7 1506.2,776.2C1507.0,770.8 1507.5,763.8 1508.1,757.5C1508.7,751.2 1509.5,745.0 1510.0,738.8C1510.5,732.5 1510.8,725.2 1511.2,720.0C1511.7,714.8 1511.7,711.2 1512.5,707.5C1513.3,703.8 1515.2,701.0 1516.2,697.5C1517.3,694.0 1517.7,689.4 1518.8,686.2C1519.8,683.1 1521.0,681.2 1522.5,678.8C1524.0,676.2 1525.6,673.1 1527.5,671.2C1529.4,669.4 1531.7,668.8 1533.8,667.5C1535.8,666.2 1537.9,665.0 1540.0,663.8C1542.1,662.5 1544.2,661.2 1546.2,660.0C1548.3,658.8 1550.6,657.2 1552.5,656.2C1554.4,655.3 1556.2,653.6 1557.5,654.4C1558.8,655.2 1559.1,660.5 1560.0,661.2C1560.9,662.0 1562.3,660.5 1563.1,658.8C1563.9,657.0 1563.8,651.9 1565.0,650.6C1566.2,649.4 1568.3,650.7 1570.0,651.2C1571.7,651.8 1573.4,652.7 1575.0,653.8C1576.6,654.8 1578.2,656.0 1579.4,657.5C1580.7,659.0 1581.4,660.6 1582.5,662.5C1583.6,664.4 1585.0,666.2 1586.2,668.8C1587.5,671.2 1588.8,674.4 1590.0,677.5C1591.2,680.6 1592.5,684.6 1593.8,687.5C1595.0,690.4 1596.2,693.3 1597.5,695.0C1598.8,696.7 1599.8,697.3 1601.2,697.5C1602.7,697.7 1604.6,697.7 1606.2,696.2C1607.9,694.8 1609.6,691.9 1611.2,688.8C1612.9,685.6 1614.8,680.8 1616.2,677.5C1617.7,674.2 1618.5,671.2 1620.0,668.8C1621.5,666.2 1623.4,664.0 1625.0,662.5C1626.6,661.0 1627.9,660.1 1629.4,660.0C1630.9,659.9 1632.2,660.6 1633.8,661.9C1635.3,663.1 1637.1,665.9 1638.8,667.5C1640.4,669.1 1642.4,670.4 1643.8,671.2C1645.1,672.1 1645.9,673.1 1646.9,672.5C1647.9,671.9 1648.9,670.0 1650.0,667.5C1651.1,665.0 1652.5,660.8 1653.8,657.5C1655.0,654.2 1656.6,651.7 1657.5,647.5C1658.4,643.3 1658.7,637.5 1659.4,632.5C1660.1,627.5 1661.1,622.7 1661.9,617.5C1662.7,612.3 1663.7,606.2 1664.4,601.2C1665.1,596.2 1665.4,591.7 1666.2,587.5C1667.1,583.3 1668.2,579.6 1669.4,576.2C1670.7,572.9 1672.7,571.7 1673.8,567.5C1674.8,563.3 1675.1,556.7 1675.6,551.2C1676.1,545.8 1676.6,540.2 1676.9,535.0C1677.2,529.8 1677.2,527.5 1677.5,520.0C1677.8,512.5 1678.4,500.2 1679.0,490.0C1679.6,479.8 1680.7,464.2 1681.0,459.0"/>
</g>
<text class="lbl" transform="translate(134.9,196) scale(0.9,1)">a</text>
<text class="lbl" x="157.3" y="774">b</text>
<g class="tl">
<text transform="translate(80.3,1284.5) scale(1.03,1)" text-anchor="middle">4000</text>
<text transform="translate(302.6,1284.5) scale(1.03,1)" text-anchor="middle">3500</text>
<text transform="translate(524.9,1284.5) scale(1.03,1)" text-anchor="middle">3000</text>
<text transform="translate(747.2,1284.5) scale(1.03,1)" text-anchor="middle">2500</text>
<text transform="translate(969.5,1284.5) scale(1.03,1)" text-anchor="middle">2000</text>
<text transform="translate(1191.8,1284.5) scale(1.03,1)" text-anchor="middle">1500</text>
<text transform="translate(1414.1,1284.5) scale(1.03,1)" text-anchor="middle">1000</text>
<text transform="translate(1636.4,1284.5) scale(1.03,1)" text-anchor="middle">500</text>
</g>
<text class="ttl" x="646.5" y="1409">Wavenumber (cm<tspan font-size="33.5px" dy="-32">-1</tspan><tspan dy="32">)</tspan></text>
</svg>
</body>
</html>
